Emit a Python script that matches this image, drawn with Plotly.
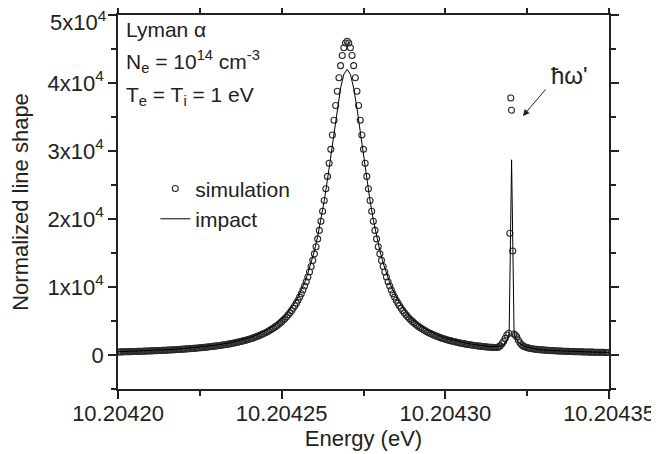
import numpy as np
import plotly.graph_objects as go

# energies are given as offsets in micro-eV from 10.20420 eV
E0 = 10.20420

# simulation (open circles)
sim_left_off = [0, 0.5, 1, 1.5, 2, 2.5, 3, 3.5, 4, 4.5, 5, 5.5, 6, 6.5, 7, 7.5, 8, 8.5, 9, 9.5,
                10, 10.5, 11, 11.5, 12, 12.5, 13, 13.5, 14, 14.5, 15, 15.5, 16, 16.5, 17, 17.5,
                18, 18.5, 19, 19.5, 20, 20.5, 21, 21.5, 22, 22.5, 23, 23.5, 24, 24.5, 25, 25.5,
                26, 26.5, 27, 27.5, 28, 28.5, 29, 29.5, 30, 30.5, 31, 31.5, 32, 32.5, 33, 33.5,
                34, 34.5, 35, 35.5, 36, 36.5, 37, 37.5, 38, 38.5, 39, 39.5, 40, 40.5, 41, 41.5,
                42, 42.5, 43, 43.5, 44, 44.5, 45, 45.5, 46, 46.5, 47, 47.5, 48, 48.5, 49, 49.5]
sim_left_val = [444, 450, 457, 463, 470, 477, 484, 491, 499, 506, 514, 522, 530, 538, 547, 555,
                564, 573, 583, 592, 602, 612, 622, 633, 644, 655, 666, 678, 690, 702, 715, 728,
                741, 755, 769, 783, 798, 813, 829, 845, 862, 879, 897, 915, 934, 953, 973, 994,
                1015, 1037, 1059, 1083, 1107, 1132, 1158, 1184, 1212, 1241, 1270, 1301, 1333,
                1366, 1400, 1435, 1472, 1510, 1550, 1591, 1634, 1679, 1725, 1774, 1824, 1877,
                1932, 1989, 2049, 2112, 2177, 2246, 2317, 2392, 2471, 2554, 2640, 2732, 2827,
                2928, 3035, 3147, 3265, 3389, 3521, 3661, 3808, 3965, 4131, 4307, 4494, 4693]

sim_peak_off = [50, 50.5, 51, 51.5, 52, 52.5, 53, 53.5, 54, 54.5, 55, 55.5, 56, 56.5, 57, 57.5,
                58, 58.5, 59, 59.5, 60, 60.5, 61, 61.5, 62, 62.5, 63, 63.5, 64, 64.5, 65, 65.5,
                66, 66.5, 67, 67.5, 68, 68.5, 69, 69.5, 70, 70.5, 71, 71.5, 72, 72.5, 73, 73.5,
                74, 74.5, 75, 75.5, 76, 76.5, 77, 77.5, 78, 78.5, 79, 79.5, 80, 80.5, 81, 81.5,
                82, 82.5, 83, 83.5, 84, 84.5, 85, 85.5, 86, 86.5, 87, 87.5, 88, 88.5, 89, 89.5, 90]
sim_peak_val = [4906, 5132, 5374, 5632, 5909, 6205, 6523, 6865, 7233, 7628, 8055, 8516, 9014,
                9553, 10138, 10772, 11460, 12209, 13024, 13911, 14877, 15929, 17075, 18321,
                19675, 21144, 22731, 24439, 26266, 28206, 30245, 32362, 34525, 36689, 38795,
                40776, 42554, 44048, 45181, 45889, 46130,
                45889, 45181, 44048, 42554, 40776, 38795, 36689, 34525, 32362, 30245, 28206,
                26266, 24439, 22731, 21144, 19675, 18321, 17075, 15929, 14877, 13911, 13024,
                12209, 11460, 10772, 10138, 9553, 9014, 8516, 8055, 7628, 7233, 6865, 6523,
                6205, 5909, 5632, 5374, 5132, 4906]

sim_mid_off = [90.5, 91, 91.5, 92, 92.5, 93, 93.5, 94, 94.5, 95, 95.5, 96, 96.5, 97, 97.5, 98,
               98.5, 99, 99.5, 100, 100.5, 101, 101.5, 102, 102.5, 103, 103.5, 104, 104.5, 105,
               105.5, 106, 106.5, 107, 107.5, 108, 108.5, 109, 109.5, 110, 110.5, 111, 111.5,
               112, 112.5, 113, 113.5, 114, 114.5, 115, 115.5, 116]
sim_mid_val = [4693, 4494, 4307, 4131, 3965, 3808, 3661, 3521, 3389, 3265, 3147, 3035, 2928,
               2827, 2732, 2640, 2554, 2471, 2392, 2317, 2246, 2177, 2112, 2049, 1989, 1932,
               1877, 1824, 1774, 1725, 1679, 1634, 1591, 1550, 1510, 1472, 1435, 1400, 1366,
               1333, 1301, 1270, 1241, 1212, 1190, 1170, 1150, 1130, 1115, 1100, 1105, 1120]

sim_spike_off = [116.4, 116.8, 117.3, 117.8, 118.3, 118.8, 119.4, 119.7, 120.0, 120.2, 120.6,
                 121.0, 121.4, 121.8, 122.3, 122.8, 123.3, 123.7]
sim_spike_val = [1230, 1350, 1650, 2000, 2450, 2940, 3190, 17900, 37800, 36000, 15300,
                 3090, 2900, 2690, 2200, 1800, 1500, 1370]

sim_right_off = [124, 124.5, 125, 125.5, 126, 126.5, 127, 127.5, 128, 128.5, 129, 129.5, 130,
                 130.5, 131, 131.5, 132, 132.5, 133, 133.5, 134, 134.5, 135, 135.5, 136, 136.5,
                 137, 137.5, 138, 138.5, 139, 139.5, 140, 140.5, 141, 141.5, 142, 142.5, 143,
                 143.5, 144, 144.5, 145, 145.5, 146, 146.5, 147, 147.5, 148, 148.5, 149, 149.5,
                 150]
sim_right_val = [1250, 1160, 1080, 1015, 960, 918, 880, 848, 820, 794, 770, 750, 730, 710, 690,
                 675, 660, 645, 630, 615, 600, 590, 580, 570, 560, 550, 540, 530, 520, 510, 500,
                 492, 485, 477, 470, 462, 455, 447, 440, 434, 428, 422, 416, 410, 405, 400, 395,
                 390, 385, 380, 375, 370, 365]

# impact theory (solid line)
imp_off = [0, 5, 10, 15, 20, 25, 30, 34, 37, 40, 42, 44, 46, 48, 50, 51, 52, 53, 54, 55, 56, 57,
           58, 59, 60, 61, 62, 63, 64, 65, 66, 67, 68, 69, 70, 71, 72, 73, 74, 75, 76, 77, 78,
           79, 80, 81, 82, 83, 84, 85, 86, 87, 88, 89, 90, 92, 94, 96, 98, 100, 103, 106, 110,
           114, 117, 118, 119, 119.5, 120.24, 121, 121.5, 122.5, 124, 126, 128, 130, 135, 140,
           145, 150]
imp_val = [487, 564, 660, 783, 944, 1159, 1456, 1783, 2105, 2520, 2868, 3290, 3810, 4457, 5275,
           5767, 6327, 6966, 7699, 8544, 9521, 10657, 11979, 13523, 15326, 17429, 19869, 22668,
           25822, 29266, 32852, 36312, 39266, 41281, 42000, 41281, 39266, 36312, 32852, 29266,
           25822, 22668, 19869, 17429, 15326, 13523, 11979, 10657, 9521, 8544, 7699, 6966, 6327,
           5767, 5275, 4457, 3810, 3290, 2868, 2520, 2105, 1783, 1456, 1220, 1300, 1550, 2300,
           3300, 28700, 3300, 2500, 1800, 1300, 1050, 850, 720, 590, 500, 430, 374]

x_ticks = [10.20420, 10.20425, 10.20430, 10.20435]
y_ticks = [0, 10000, 20000, 30000, 40000, 50000]
y_ticktext = ['0', '1x10<sup>4</sup>', '2x10<sup>4</sup>', '3x10<sup>4</sup>',
              '4x10<sup>4</sup>', '5x10<sup>4</sup>']

sim_off = sim_left_off + sim_peak_off + sim_mid_off + sim_spike_off + sim_right_off
sim_val = sim_left_val + sim_peak_val + sim_mid_val + sim_spike_val + sim_right_val
sim_x = E0 + np.array(sim_off) * 1e-6
imp_x = E0 + np.array(imp_off) * 1e-6

FONT = 'Liberation Sans, Arial, sans-serif'
INK = '#222222'

fig = go.Figure()
fig.add_trace(go.Scatter(x=sim_x, y=sim_val, mode='markers', name='simulation',
                         marker=dict(symbol='circle-open', size=6, color='#2a2a2a',
                                     line=dict(width=1.1, color='#2a2a2a'))))
fig.add_trace(go.Scatter(x=imp_x, y=imp_val, mode='lines', name='impact',
                         line=dict(color='black', width=1)))

axis_common = dict(showline=True, linecolor=INK, linewidth=1.5, mirror='ticks',
                   ticks='outside', tickwidth=1.5, tickcolor=INK, ticklen=8,
                   showgrid=False, zeroline=False, automargin=False,
                   ticklabeloverflow='allow',
                   tickfont=dict(family=FONT, size=22, color=INK))

# the top label would be clipped at the page edge, so it is written separately a bit lower
y_labels_drawn = y_ticktext[:-1] + ['']

# the page body adds an 8 px offset, so the figure is 8 px smaller than the window
fig.update_layout(
    width=651, height=446,
    margin=dict(l=110, r=50, t=7, b=65),
    paper_bgcolor='white', plot_bgcolor='white',
    font=dict(family=FONT, color=INK),
    xaxis=dict(range=[10.20420, 10.20435], tickvals=x_ticks, tickformat='.5f',
               ticklabelstandoff=-4,
               minor=dict(dtick=0.000025, tick0=10.20420, ticks='outside', ticklen=5,
                          tickwidth=1.5, tickcolor=INK),
               title=dict(text='Energy (eV)', font=dict(family=FONT, size=22, color=INK),
                          standoff=0),
               **axis_common),
    yaxis=dict(range=[-5000, 50000], tickvals=y_ticks, ticktext=y_labels_drawn,
               minor=dict(dtick=5000, tick0=0, ticks='outside', ticklen=5,
                          tickwidth=1.5, tickcolor=INK),
               title=dict(text='Normalized line shape', font=dict(family=FONT, size=22, color=INK),
                          standoff=14),
               **axis_common),
    legend=dict(x=0.076, y=0.59, xanchor='left', yanchor='top', bgcolor='rgba(0,0,0,0)',
                font=dict(family=FONT, size=21, color=INK), tracegroupgap=2),
    showlegend=True,
)

fig.add_annotation(xref='paper', x=0, xanchor='right', xshift=-9, yref='y', y=y_ticks[-1],
                   yanchor='middle', yshift=-6, text=y_ticktext[-1], showarrow=False,
                   font=dict(family=FONT, size=22, color=INK))

# text block in the upper left corner
fig.add_annotation(xref='paper', yref='paper', x=0.012, y=0.962, xanchor='left', yanchor='middle',
                   text='Lyman α', showarrow=False, font=dict(family=FONT, size=21, color=INK))
fig.add_annotation(xref='paper', yref='paper', x=0.012, y=0.875, xanchor='left', yanchor='middle',
                   text='N<sub>e</sub> = 10<sup>14</sup> cm<sup>-3</sup>', showarrow=False,
                   font=dict(family=FONT, size=21, color=INK))
fig.add_annotation(xref='paper', yref='paper', x=0.012, y=0.784, xanchor='left', yanchor='middle',
                   text='T<sub>e</sub> = T<sub>i</sub> = 1 eV', showarrow=False,
                   font=dict(family=FONT, size=21, color=INK))

# arrow pointing at the satellite feature
fig.add_annotation(x=E0 + 123.7e-6, y=35150, ax=24, ay=-28, text='', showarrow=True,
                   arrowhead=2, arrowsize=1.3, arrowwidth=1, arrowcolor=INK)
fig.add_annotation(xref='paper', yref='paper', x=0.92, y=0.837, xanchor='center', yanchor='middle',
                   text="ħω'", showarrow=False, font=dict(family=FONT, size=24, color=INK))

fig.write_html("out.html")
